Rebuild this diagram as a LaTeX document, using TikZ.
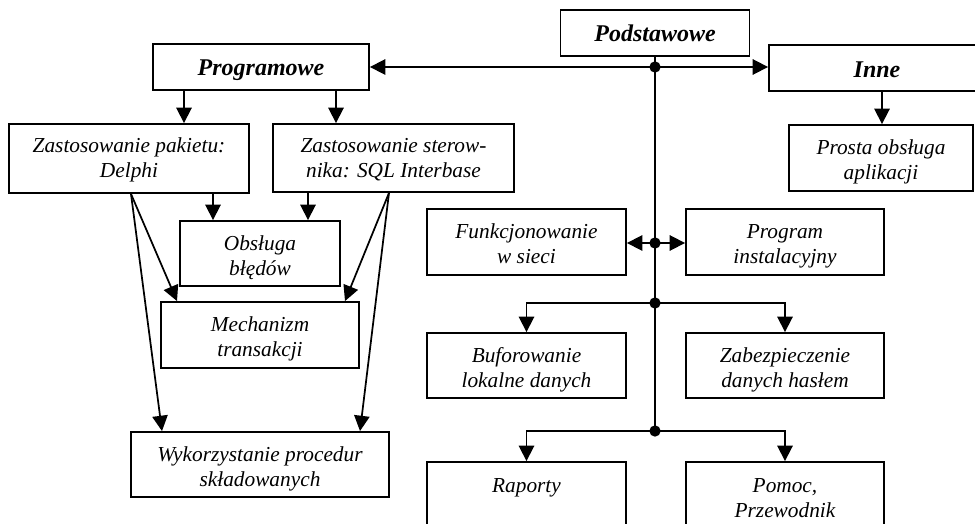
\documentclass[tikz,border=0pt]{standalone}
\usepackage{fontspec}
\setmainfont{Liberation Serif}
\usetikzlibrary{arrows.meta}
\begin{document}
\begin{tikzpicture}[x=0.75pt,y=-0.75pt,
 box/.style={draw, line width=1.4pt, inner sep=0pt},
 txt/.style={anchor=north, inner sep=0pt, align=center, font=\fontsize{16}{18.75}\selectfont\itshape},
 head/.style={anchor=north, inner sep=0pt, align=center, font=\fontsize{18}{21.6}\selectfont\bfseries\itshape},
 con/.style={line width=1.3pt},
 arr/.style={con, -{Triangle[length=11.5pt,width=11.5pt]}},
 jdot/.style={circle, fill, inner sep=0pt, minimum size=8.5pt}]

\useasboundingbox (0,0) rectangle (975,524);

% header boxes
\node[box, minimum width=162pt, minimum height=34.5pt] (prog) at (261,67) {};
\node[head] (progT) at ([yshift=-9pt]prog.north) {\strut Programowe};
\node[box, minimum width=141.75pt, minimum height=34.5pt] (podst) at (655,33) {};
\node[head] (podstT) at ([yshift=-9pt]podst.north) {\strut Podstawowe};
\node[box, minimum width=162pt, minimum height=34.5pt] (inne) at (877,68) {};
\node[head] (inneT) at ([yshift=-10pt]inne.north) {\strut Inne};

% left branch
\node[box, minimum width=180pt, minimum height=51.75pt] (pak) at (129,158.5) {};
\node[txt] (pakT) at ([yshift=-9pt]pak.north) {\strut Zastosowanie pakietu:\\\strut Delphi};
\node[box, minimum width=180.75pt, minimum height=51pt] (ster) at (393.5,158) {};
\node[txt] (sterT) at ([yshift=-9pt]ster.north) {\strut Zastosowanie sterow-\\\strut nika: SQL Interbase};
\node[box, minimum width=120pt, minimum height=48.75pt] (obs) at (260,253.5) {};
\node[txt] (obsT) at ([yshift=-9.4pt]obs.north) {\strut Obsługa\\\strut błędów};
\node[box, minimum width=148.5pt, minimum height=49.5pt] (mech) at (260,335) {};
\node[txt] (mechT) at ([yshift=-9.4pt]mech.north) {\strut Mechanizm\\\strut transakcji};
\node[box, minimum width=193.5pt, minimum height=48.75pt] (wyk) at (260,464.5) {};
\node[txt] (wykT) at ([yshift=-9.4pt]wyk.north) {\strut Wykorzystanie procedur\\\strut składowanych};

% right branch
\node[box, minimum width=138pt, minimum height=49.5pt] (prosta) at (881,158) {};
\node[txt] (prostaT) at ([yshift=-9.4pt]prosta.north) {\strut Prosta obsługa\\\strut aplikacji};

% middle branch
\node[box, minimum width=149.25pt, minimum height=49.5pt] (funk) at (526.5,242) {};
\node[txt] (funkT) at ([yshift=-9.8pt]funk.north) {\strut Funkcjonowanie\\\strut w sieci};
\node[box, minimum width=148.5pt, minimum height=49.5pt] (inst) at (785,242) {};
\node[txt] (instT) at ([yshift=-9.8pt]inst.north) {\strut Program\\\strut instalacyjny};
\node[box, minimum width=149.25pt, minimum height=48.75pt] (buf) at (526.5,365.5) {};
\node[txt] (bufT) at ([yshift=-9.4pt]buf.north) {\strut Buforowanie\\\strut lokalne danych};
\node[box, minimum width=148.5pt, minimum height=48.75pt] (zab) at (785,365.5) {};
\node[txt] (zabT) at ([yshift=-9.4pt]zab.north) {\strut Zabezpieczenie\\\strut danych hasłem};
\node[box, minimum width=149.25pt, minimum height=52.5pt] (rap) at (526.5,497) {};
\node[txt] (rapT) at ([yshift=-10pt]rap.north) {\strut Raporty};
\node[box, minimum width=148.5pt, minimum height=52.5pt] (pom) at (785,497) {};
\node[txt] (pomT) at ([yshift=-10pt]pom.north) {\strut Pomoc,\\\strut Przewodnik};

% x positions for connectors
\coordinate (xa) at (184,0);
\coordinate (xb) at (336,0);
\coordinate (xc) at (213,0);
\coordinate (xd) at (308,0);
\coordinate (xe) at (131,0);
\coordinate (xf) at (177,0);
\coordinate (xg) at (162,0);
\coordinate (xh) at (389,0);
\coordinate (xi) at (345,0);
\coordinate (xj) at (360,0);
\coordinate (xk) at (882,0);

% junctions
\coordinate (j1) at (655,67);
\coordinate (j2) at (655,243);
\coordinate (j3) at (655,303);
\coordinate (j4) at (655,431);

% trunk
\draw[con] (podst.south) -- (j4);
\draw[arr] (j1) -- (prog.east |- j1);
\draw[arr] (j1) -- (j1 -| inne.west);
\draw[arr] (j2) -- (j2 -| funk.east);
\draw[arr] (j2) -- (j2 -| inst.west);
\draw[arr] (j3) -| (buf.north);
\draw[arr] (j3) -| (zab.north);
\draw[arr] (j4) -| (rap.north);
\draw[arr] (j4) -| (pom.north);
\draw[arr] (inne.south -| xk) -- (prosta.north -| xk);

% left connectors
\draw[arr] (prog.south -| xa) -- (pak.north -| xa);
\draw[arr] (prog.south -| xb) -- (ster.north -| xb);
\draw[arr] (pak.south -| xc) -- (obs.north -| xc);
\draw[arr] (ster.south -| xd) -- (obs.north -| xd);
\draw[arr] (pak.south -| xe) -- (mech.north -| xf);
\draw[arr] (pak.south -| xe) -- (wyk.north -| xg);
\draw[arr] (ster.south -| xh) -- (mech.north -| xi);
\draw[arr] (ster.south -| xh) -- (wyk.north -| xj);

% dots
\node[jdot] (d1) at (j1) {};
\node[jdot] (d2) at (j2) {};
\node[jdot] (d3) at (j3) {};
\node[jdot] (d4) at (j4) {};
\end{tikzpicture}
\end{document}
